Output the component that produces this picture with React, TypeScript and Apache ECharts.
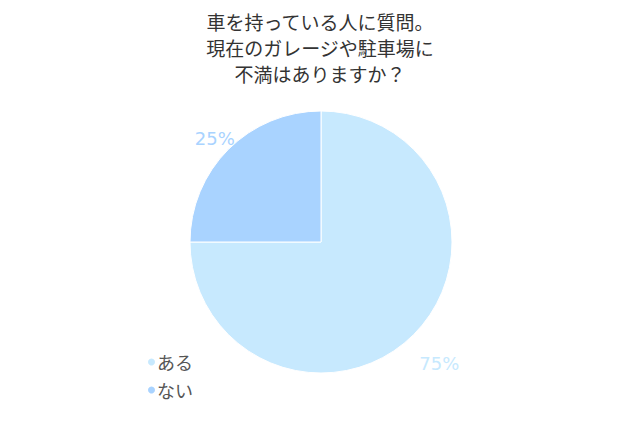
import React, { useEffect, useRef } from 'react';
import * as echarts from 'echarts';

const titleText = '車を持っている人に質問。\n現在のガレージや駐車場に\n不満はありますか？';
const categories = ['ある', 'ない'];
const values = [75, 25];
const colors = ['#c7e9fe', '#a9d3ff'];

const App: React.FC = () => {
	const chartRef = useRef<HTMLDivElement>(null);

	useEffect(() => {
		if (!chartRef.current) return;
		const chart = echarts.init(chartRef.current, undefined, { renderer: 'svg' });
		const font = '"Noto Sans CJK JP", "Noto Sans", sans-serif';
		// label nudges so the percentages sit where the original puts them
		const labelShift = [
			{ dx: -10, dy: 18 },
			{ dx: 22, dy: 0 }
		];

		const option: echarts.EChartsOption = {
			animation: false,
			title: {
				text: titleText,
				left: 'center',
				top: 0,
				padding: 0,
				textStyle: {
					color: '#333',
					fontSize: 19,
					fontWeight: 'normal',
					lineHeight: 26,
					fontFamily: font
				}
			},
			legend: {
				orient: 'vertical',
				left: 133,
				top: 340,
				icon: 'circle',
				itemWidth: 9,
				itemHeight: 9,
				itemGap: 10,
				textStyle: { color: '#555', fontSize: 18, fontFamily: font, padding: [0, 0, 0, -4] },
				data: categories
			},
			series: [
				{
					type: 'pie',
					center: [313, 234],
					radius: 131,
					startAngle: 90,
					clockwise: true,
					itemStyle: { borderColor: '#fff', borderWidth: 1 },
					label: {
						show: true,
						position: 'outside',
						formatter: '{d}%',
						fontSize: 18,
						fontFamily: 'Verdana, "DejaVu Sans", sans-serif',
						color: 'inherit'
					},
					labelLine: { show: false, length: 15, length2: 0 },
					labelLayout: (params: any) => labelShift[params.dataIndex] || {},
					data: categories.map((name, i) => ({
						name,
						value: values[i],
						itemStyle: { color: colors[i] },
						label: { color: colors[i] }
					}))
				}
			]
		};

		chart.setOption(option);
		return () => {
			chart.dispose();
		};
	}, []);

	return <div ref={chartRef} style={{ width: '624px', height: '405px' }} />;
};

export default App;
